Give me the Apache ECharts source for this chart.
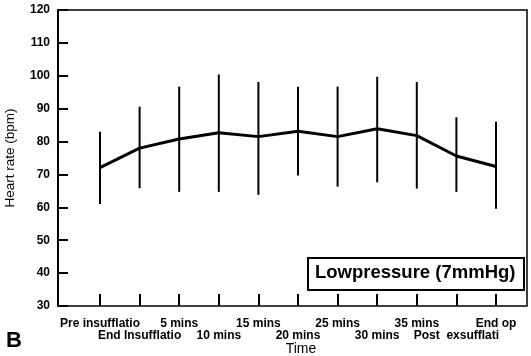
<!DOCTYPE html>
<html><head><meta charset="utf-8">
<script src="https://cdn.jsdelivr.net/npm/echarts@6/dist/echarts.min.js"></script>
<style>html,body{margin:0;padding:0;background:#fff}#c{width:531px;height:356px}</style>
</head><body><div id="c"></div>
<script>
const categories = ['Pre insufflatio','End Insufflatio','5 mins','10 mins','15 mins','20 mins','25 mins','30 mins','35 mins','Post  exsufflati','End op'];
const meanHR = [72.1, 78.0, 80.8, 82.7, 81.5, 83.1, 81.5, 83.9, 81.8, 75.6, 72.4];
const upperHR = [83.0, 90.6, 96.7, 100.4, 98.1, 96.7, 96.7, 99.7, 98.1, 87.4, 86.0];
const lowerHR = [61.0, 65.8, 64.7, 64.7, 63.8, 69.7, 66.3, 67.6, 65.7, 64.7, 59.6];
const yTicks = [30, 120, 10];

const font = '"Liberation Sans Narrow","Liberation Sans",Arial,sans-serif';
const chart = echarts.init(document.getElementById('c'), null, {renderer:'canvas'});
chart.setOption({
  animation:false,
  grid:[
    {left:58, right:4, top:10, bottom:50, show:true, borderColor:'#000', borderWidth:1.5, backgroundColor:'transparent', containLabel:false, outerBoundsMode:'none'},
    {left:100, right:35, top:10, bottom:50, containLabel:false, outerBoundsMode:'none'}
  ],
  xAxis:[
    {gridIndex:0, type:'value', min:0, max:1, show:false},
    {gridIndex:1, type:'category', data:categories, boundaryGap:false,
     axisLine:{show:false},
     axisTick:{show:true, inside:true, length:12, interval:0, lineStyle:{color:'#000', width:2}},
     axisLabel:{interval:0, margin:12, color:'#000', fontFamily:font, fontWeight:'bold', fontSize:12, lineHeight:12,
       formatter:(v, i)=> i % 2 === 1 ? '\n' + v : v}}
  ],
  yAxis:[
    {gridIndex:0, type:'value', min:yTicks[0], max:yTicks[1], interval:yTicks[2],
     axisLine:{show:true, lineStyle:{color:'#000', width:2}},
     axisTick:{show:true, inside:true, length:10, lineStyle:{color:'#000', width:2}},
     splitLine:{show:false},
     axisLabel:{color:'#000', fontFamily:font, fontWeight:'bold', fontSize:12, margin:8},
     name:'Heart rate (bpm)', nameLocation:'middle', nameGap:41, nameTextStyle:{color:'#000', fontFamily:'Liberation Sans,Arial,sans-serif', fontSize:13.5}},
    {gridIndex:1, type:'value', min:yTicks[0], max:yTicks[1], show:false}
  ],
  series:[
    {type:'custom', xAxisIndex:1, yAxisIndex:1,
     data: categories.map((c,i)=>[i, lowerHR[i], upperHR[i]]),
     renderItem:(params, api)=>{
       const a = api.coord([api.value(0), api.value(1)]);
       const b = api.coord([api.value(0), api.value(2)]);
       return {type:'line', shape:{x1:a[0], y1:a[1], x2:b[0], y2:b[1]}, style:{stroke:'#000', lineWidth:2}};
     }, z:2},
    {type:'line', xAxisIndex:1, yAxisIndex:1, data:meanHR, symbol:'none',
     lineStyle:{color:'#000', width:3}, z:3}
  ],
  graphic:[
    {type:'rect', left:307, top:257, shape:{width:216, height:32}, style:{fill:'#fff', stroke:'#000', lineWidth:2}, z:10},
    {type:'text', left:315, top:263, style:{text:'Lowpressure (7mmHg)', font:'bold 18.5px Liberation Sans, Arial, sans-serif', fill:'#000'}, z:11},
    {type:'text', left:6, top:330, style:{text:'B', font:'bold 22px Liberation Sans, Arial, sans-serif', fill:'#000'}},
    {type:'text', x:301, y:349, style:{text:'Time', font:'14px Liberation Sans, Arial, sans-serif', fill:'#000', textAlign:'center', textVerticalAlign:'middle'}}
  ]
});
</script></body></html>
